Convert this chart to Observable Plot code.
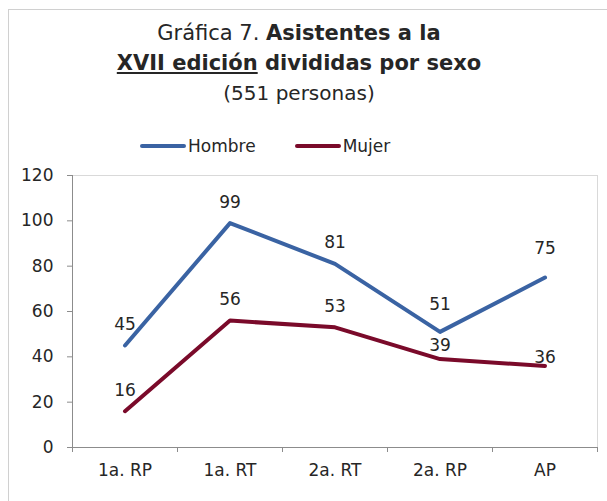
<!DOCTYPE html>
<html><head><meta charset="utf-8">
<script src="https://cdn.jsdelivr.net/npm/d3@7"></script>
<script src="https://cdn.jsdelivr.net/npm/@observablehq/plot@0.6"></script>
<style>
body{margin:0;background:#fff;font-family:"DejaVu Sans",sans-serif;color:#262626}
#wrap{position:relative;width:607px;height:501px;overflow:hidden}
#frame{position:absolute;left:8px;top:9px;right:-2px;bottom:-2px;border-left:1px solid #d0d0d0;border-top:1px solid #d0d0d0}
#title{position:absolute;left:0;width:598px;top:18px;text-align:center;font-size:21px;line-height:30px}
#title .l3{font-size:20px}
#legend{position:absolute;top:132px;left:140px;font-size:17px;line-height:20px;white-space:nowrap}
.li{display:inline-flex;align-items:center}
.li + .li{margin-left:39px}
.sw{display:inline-block;width:46px;height:4px;border-radius:2px;margin-right:2px}
#chart{position:absolute;left:0;top:160px}
</style></head>
<body><div id="wrap"><div id="frame"></div>
<div id="title"></div>
<div id="legend"></div>
<div id="chart"></div></div>
<script>
const categories = ["1a. RP","1a. RT","2a. RT","2a. RP","AP"];
const hombre = [45,99,81,51,75];
const mujer = [16,56,53,39,36];
const seriesNames = ["Hombre","Mujer"];
const colors = ["#3A63A3","#7A0A2A"];
const yTicks = [0,20,40,60,80,100,120];

document.getElementById("title").innerHTML =
  'Gráfica 7. <b>Asistentes a la</b><br><b><u>XVII edición</u> divididas por sexo</b><br><span class="l3">(551 personas)</span>';
document.getElementById("legend").innerHTML = seriesNames.map((n,i)=>
  `<span class="li"><span class="sw" style="background:${colors[i]}"></span>${n}</span>`).join("");

const rows = [];
[hombre, mujer].forEach((vals, s) => vals.forEach((v, i) =>
  rows.push({serie: seriesNames[s], idx: i, cat: categories[i], value: v})));
const pos = d => d.idx + 0.5;
const font = '"DejaVu Sans", sans-serif';

// label placement as in the reference (Excel moved some labels)
function labelShift(d) {
  if (d.serie === "Hombre" && d.idx === 3) return -27;
  if (d.serie === "Hombre" && d.idx === 4) return -29;
  if (d.serie === "Mujer" && d.idx === 3) return -14;
  if (d.serie === "Mujer" && d.idx === 4) return -8;
  return -21;
}
const shifts = Array.from(new Set(rows.map(labelShift)));
const labelMarks = shifts.map(s => Plot.text(rows.filter(d => labelShift(d) === s),
  {x: pos, y: "value", text: "value", dy: s, fontSize: 17, fill: "#262626"}));

const chart = Plot.plot({
  width: 607, height: 330,
  marginLeft: 72, marginRight: 10, marginTop: 15, marginBottom: 43,
  style: {fontFamily: font, fontSize: "17px", color: "#262626"},
  x: {domain: [0, categories.length], axis: null},
  y: {domain: [0, 120], axis: null},
  color: {domain: seriesNames, range: colors},
  marks: [
    Plot.frame({anchor: "top", stroke: "#d9d9d9"}),
    Plot.frame({anchor: "right", stroke: "#d9d9d9"}),
    Plot.frame({anchor: "left", stroke: "#8c8c8c"}),
    Plot.frame({anchor: "bottom", stroke: "#8c8c8c"}),
    Plot.axisY({ticks: yTicks, label: null, tickSize: 5, tickPadding: 14, stroke: "#8c8c8c", fontSize: 17, fill: "#262626"}),
    Plot.axisX({ticks: d3.range(categories.length + 1), label: null, tickSize: 5, tickFormat: () => "", stroke: "#8c8c8c"}),
    Plot.axisX({ticks: categories.map((c,i)=>i+0.5), label: null, tickSize: 0, tickPadding: 16, tickFormat: d => categories[Math.floor(d)], fontSize: 17, fill: "#262626"}),
    Plot.line(rows, {x: pos, y: "value", z: "serie", stroke: "serie", strokeWidth: 4, strokeLinecap: "round", strokeLinejoin: "round"}),
    ...labelMarks
  ]
});
document.getElementById("chart").appendChild(chart);
</script></body></html>
